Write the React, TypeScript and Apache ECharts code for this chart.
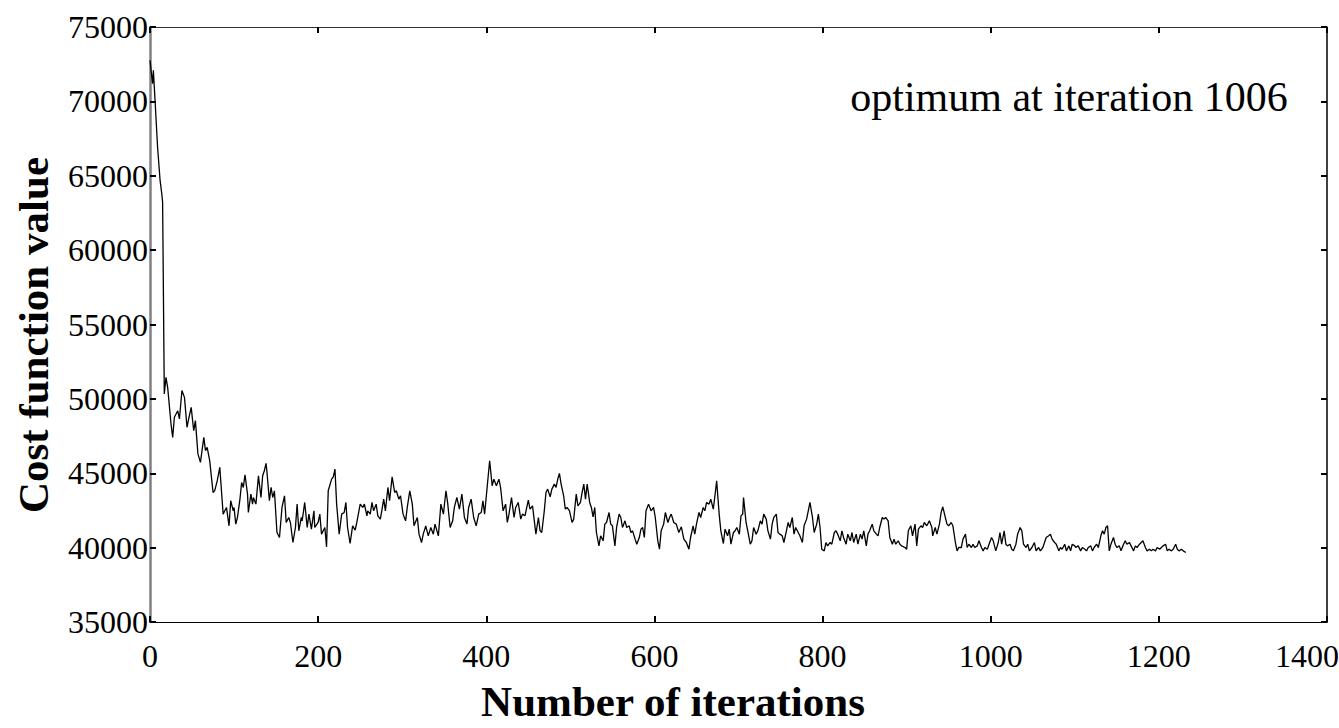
import React, { useEffect, useRef } from "react";
import * as echarts from "echarts";

// Iteration numbers (x) and cost function values (y)
const iterations: number[] = [
  0, 3, 4, 6, 9, 12, 14, 15, 17, 19, 21, 25, 27, 29, 33, 35, 38, 41, 44, 46, 49, 52, 54, 57, 60, 64, 66, 68, 71, 75, 77, 80, 83, 87,
  89, 91, 94, 96, 99, 100, 102, 104, 107, 109, 111, 113, 116, 117, 120, 122, 123, 126, 129, 132, 134, 136, 138, 139, 142, 144, 146, 148, 151, 154, 157, 160, 162, 165, 167, 170, 173, 175, 177, 180, 181, 184, 187, 189, 192, 195, 196, 200, 202, 204, 208, 210, 212, 216, 218, 220, 222, 225, 228, 231, 233, 235, 238, 241, 244, 246, 250, 253, 255, 258,
  259, 262, 264, 266, 269, 271, 274, 278, 280, 283, 285, 288, 291, 293, 296, 298, 301, 304, 306, 309, 312, 314, 318, 320, 323, 325, 328, 331, 334, 337, 339, 343, 346, 349, 352, 354, 357, 360, 362, 365, 368, 371, 374, 377, 379, 382, 385, 388, 391, 394, 396, 398, 401, 404, 407, 409, 412, 415, 417, 420,
  423, 425, 427, 430, 433, 435, 438, 441, 443, 446, 450, 452, 455, 459, 462, 464, 466, 469, 471, 473, 476, 478, 481, 483, 485, 487, 489, 492, 494, 496, 499, 502, 504, 507, 509, 512, 514, 516, 518, 520, 523, 525, 527, 529, 531, 534, 536, 539, 541, 543, 546, 548, 550, 553, 555, 558, 560, 562, 565, 567, 570, 572, 574, 577, 579, 582, 584, 586, 588, 590, 593,
  596, 599, 601, 604, 606, 608, 611, 613, 616, 618, 620, 623, 626, 629, 632, 635, 638, 641, 643, 646, 648, 650, 653, 655, 658, 660, 662, 665, 667, 670, 672, 674, 677, 679, 682, 684, 687, 689, 691, 694, 696, 698, 701, 703, 705, 706, 709, 711, 714, 716, 718, 721, 723, 726, 728, 730, 733, 735, 738, 740, 742, 745, 747, 749, 752, 754, 757, 759, 761, 764, 766, 768,
  770, 773, 776, 778, 781, 783, 785, 788, 790, 793, 795, 797, 799, 802, 804, 806, 809, 811, 814, 816, 818, 821, 823, 825, 828, 830, 833, 835, 837, 840, 842, 845, 847, 849, 852, 854, 856, 859, 861, 864, 866, 868, 871, 873, 875, 878, 880, 883, 885, 887, 890, 892, 894, 898, 900, 902, 905, 907, 910, 912, 914, 917, 919, 921, 924,
  927, 930, 931, 934, 936, 939, 941, 943, 946, 948, 950, 953, 955, 958, 960, 962, 965, 967, 970, 972, 974, 977, 979, 981, 984, 986, 989, 991, 993, 996, 998, 1001, 1003, 1006, 1009, 1011, 1013, 1016, 1018, 1020, 1023, 1025, 1027, 1030, 1032, 1035, 1037, 1039, 1042, 1044, 1046, 1049, 1052, 1054, 1057, 1059, 1062, 1064, 1066, 1069, 1071, 1073, 1076, 1078, 1081, 1083, 1085, 1088, 1090, 1093, 1095, 1097, 1100,
  1101, 1104, 1107, 1109, 1112, 1114, 1116, 1119, 1121, 1123, 1126, 1128, 1131, 1133, 1135, 1137, 1139, 1141, 1143, 1146, 1148, 1150, 1153, 1155, 1158, 1160, 1162, 1165, 1167, 1170, 1172, 1174, 1177, 1179, 1181, 1184, 1186, 1189, 1191, 1193, 1196, 1198, 1201, 1203, 1205, 1208, 1210, 1212, 1215, 1217, 1220, 1222, 1224, 1227, 1229, 1232,
];

const costs: number[] = [
  72760, 71190, 72090, 70070, 66930, 64685, 63790, 63230, 50330, 51450, 50780, 48310, 47410, 48760, 49200, 48650, 50560, 50100, 48090, 48650, 49430, 47860, 48540, 46300, 45730, 47410, 46520, 46740, 45850, 43710, 43830, 44500, 45400, 42250,
  42475, 42700, 41466, 43150, 42475, 42700, 41580, 42027, 43260, 44382, 44045, 44900, 43600, 42363, 43600, 42924, 43370, 42924, 44830, 43370, 44830, 45167, 45660, 45167, 43150, 44045, 43370, 43820, 41017, 40680, 42700, 43485, 41690, 42027, 41690, 40344, 41354, 42924, 41130, 42027, 41800, 43037, 41354, 42251, 41242, 42475, 41354, 41690, 42251, 40905, 41354, 40053, 43820, 44606, 44763, 45279, 42924, 40905, 42251, 42363, 43037, 41354, 40277, 41466, 41175, 41690, 42924, 42700, 42924, 42139,
  42475, 42251, 43037, 42475, 42924, 42139, 41915, 43260, 42475, 44045, 43150, 44763, 43710, 43820, 43260, 43485, 42251, 41800, 42700, 43820, 42924, 41466, 42027, 40905, 40344, 40905, 41466, 40793, 41354, 40905, 41580, 40793, 42924, 42251, 43820, 43037, 41354, 41800, 42700, 43370, 42588, 43600, 42027, 41580, 42700, 43260, 42027, 41466, 42251, 42363, 43150, 42251, 44045, 45840, 44158, 44606, 44158, 44606, 44045, 42475,
  42924, 41690, 42251, 43370, 42027, 42700, 43037, 41915, 42251, 42139, 43193, 42588, 42812, 40905, 42027, 41130, 41017, 42475, 43710, 43933, 43418, 43933, 44270, 44045, 44606, 44990, 44270, 43485, 42588, 42700, 42475, 41690, 41915, 43600, 42812, 43037, 43710, 44270, 43260, 44270, 43037, 42700, 42072, 42700, 41017, 40120, 40793, 40457, 41580, 41690, 42363, 41580, 41466, 40120, 41354, 42251, 42027, 41354, 41800, 41354, 41466, 41017, 41130, 40569, 40232, 40680, 41242, 41354, 40680, 42475, 42924,
  42475, 42700, 42027, 40457, 39896, 41130, 41580, 42363, 41690, 42027, 42251, 41690, 41580, 41017, 41400, 40569, 40344, 39896, 40680, 41466, 40905, 41580, 42363, 42027, 42700, 42475, 43037, 42924, 43260, 42588, 43485, 44494, 42251, 41130, 40277, 41242, 40793, 41242, 40232, 41017, 41130, 41354, 40905, 42139, 42251, 43370, 41690, 41130, 40232, 40457, 41354, 40905, 41130, 41800, 41580, 42251, 41915, 41130, 40569, 41580, 42027, 42251, 41017, 40905, 40793, 40344, 41130, 41690, 41354, 42027, 40905, 41354,
  41130, 40793, 40344, 41466, 41915, 42475, 43037, 42027, 41017, 41580, 42251, 41354, 39896, 39784, 40344, 40120, 40344, 40232, 41017, 41130, 40905, 40457, 41130, 40680, 40232, 40905, 40457, 41017, 40344, 40905, 40232, 40905, 40569, 41130, 40120, 40905, 41130, 41580, 41130, 40905, 40793, 41354, 42027, 41915, 42027, 41800, 40680, 40232, 40569, 40232, 40457, 40232, 40120, 40008, 39896, 41130, 41466, 40793, 41580, 40120, 41242, 41466, 41354, 41690, 41466,
  41800, 41354, 40793, 41354, 40905, 41580, 42363, 42745, 42027, 41580, 41466, 41690, 41466, 40344, 39784, 40008, 40008, 40569, 40905, 40008, 40232, 40008, 40232, 40008, 40120, 40457, 40008, 39784, 40008, 39896, 40232, 40680, 40457, 39784, 40344, 41017, 40232, 41130, 40232, 40120, 40232, 39896, 39784, 40232, 40905, 41354, 41130, 40232, 40008, 40232, 39784, 40008, 40344, 39784, 40008, 39784, 40008, 40344, 40680, 40793, 40905, 40569, 40344, 40232, 39784, 40008, 39896, 40232, 39784, 40120, 39784, 40232, 40120,
  40008, 40120, 39784, 40008, 39896, 39784, 40008, 40120, 39784, 40008, 40232, 40008, 40793, 41130, 40905, 41354, 41466, 39784, 40232, 40680, 40232, 40008, 40120, 39784, 40232, 40457, 40232, 40344, 40120, 39784, 40120, 40008, 40232, 40344, 40457, 40008, 39784, 39896, 39784, 39896, 39784, 40008, 39896, 40008, 40120, 40232, 39784, 39896, 39784, 39896, 40232, 39896, 39784, 39896, 39784, 39672,
];

const xTicks = { min: 0, max: 1400, interval: 200 };
const yTicks = { min: 35000, max: 75000, interval: 5000 };
const xTitle = "Number of iterations";
const yTitle = "Cost function value";
const note = "optimum at iteration 1006";

const FONT = "'Liberation Serif', 'Times New Roman', serif";

export default function App() {
  const ref = useRef<HTMLDivElement>(null);
  useEffect(() => {
    if (!ref.current) return;
    const chart = echarts.init(ref.current, undefined, { renderer: "svg" });
    const data = iterations.map((it, i) => [it, costs[i]]);
    const tickStyle = { show: true, inside: true, length: 6, lineStyle: { color: "#000", width: 2 } };
    const xFmt = (v: number) => (v === xTicks.max ? `{last|${v}}` : String(v));
    const yFmt = (v: number) => String(v);
    chart.setOption({
      animation: false,
      backgroundColor: "#fff",
      grid: { left: 150, right: 12, top: 27, bottom: 106, containLabel: false, outerBoundsMode: "none" },
      xAxis: [
        {
          type: "value",
          position: "bottom",
          min: xTicks.min,
          max: xTicks.max,
          interval: xTicks.interval,
          axisLine: { show: true, onZero: false, lineStyle: { color: "#000", width: 1 } },
          axisTick: tickStyle,
          axisLabel: {
            fontFamily: FONT,
            fontSize: 32,
            color: "#000",
            margin: 18,
            formatter: xFmt,
            rich: { last: { fontFamily: FONT, fontSize: 32, color: "#000", padding: [0, 40, 0, 0] } },
          },
          splitLine: { show: false },
        },
        {
          type: "value",
          position: "top",
          min: xTicks.min,
          max: xTicks.max,
          interval: xTicks.interval,
          axisLine: { show: true, onZero: false, lineStyle: { color: "#333", width: 1 } },
          axisTick: tickStyle,
          axisLabel: { show: false },
          splitLine: { show: false },
        },
      ],
      yAxis: [
        {
          type: "value",
          position: "left",
          min: yTicks.min,
          max: yTicks.max,
          interval: yTicks.interval,
          axisLine: { show: true, onZero: false, lineStyle: { color: "#808080", width: 2.5 } },
          axisTick: tickStyle,
          axisLabel: { fontFamily: FONT, fontSize: 32, color: "#000", margin: 2, formatter: yFmt, padding: [0, 0, 8, 0] },
          splitLine: { show: false },
        },
        {
          type: "value",
          position: "right",
          min: yTicks.min,
          max: yTicks.max,
          interval: yTicks.interval,
          axisLine: { show: true, onZero: false, lineStyle: { color: "#000", width: 1.5 } },
          axisTick: tickStyle,
          axisLabel: { show: false },
          splitLine: { show: false },
        },
      ],
      series: [
        {
          type: "line",
          xAxisIndex: 0,
          yAxisIndex: 0,
          data,
          showSymbol: false,
          symbol: "none",
          lineStyle: { color: "#000", width: 1.3 },
        },
      ],
      graphic: [
        {
          type: "text",
          x: 1069,
          y: 97,
          style: { text: note, fontFamily: FONT, fontSize: 42, fill: "#000", align: "center", verticalAlign: "middle" },
        },
        {
          type: "text",
          x: 673,
          y: 701,
          style: { text: xTitle, fontFamily: FONT, fontSize: 43, fontWeight: "bold", fill: "#000", align: "center", verticalAlign: "middle" },
        },
        {
          type: "text",
          x: 33,
          y: 335,
          rotation: Math.PI / 2,
          style: { text: yTitle, fontFamily: FONT, fontSize: 43, fontWeight: "bold", fill: "#000", align: "center", verticalAlign: "middle" },
        },
      ],
    });
    return () => chart.dispose();
  }, []);
  return (
    <div
      ref={ref}
      style={{ position: "fixed", left: 0, top: 0, width: 1339, height: 728, background: "#fff" }}
    />
  );
}
